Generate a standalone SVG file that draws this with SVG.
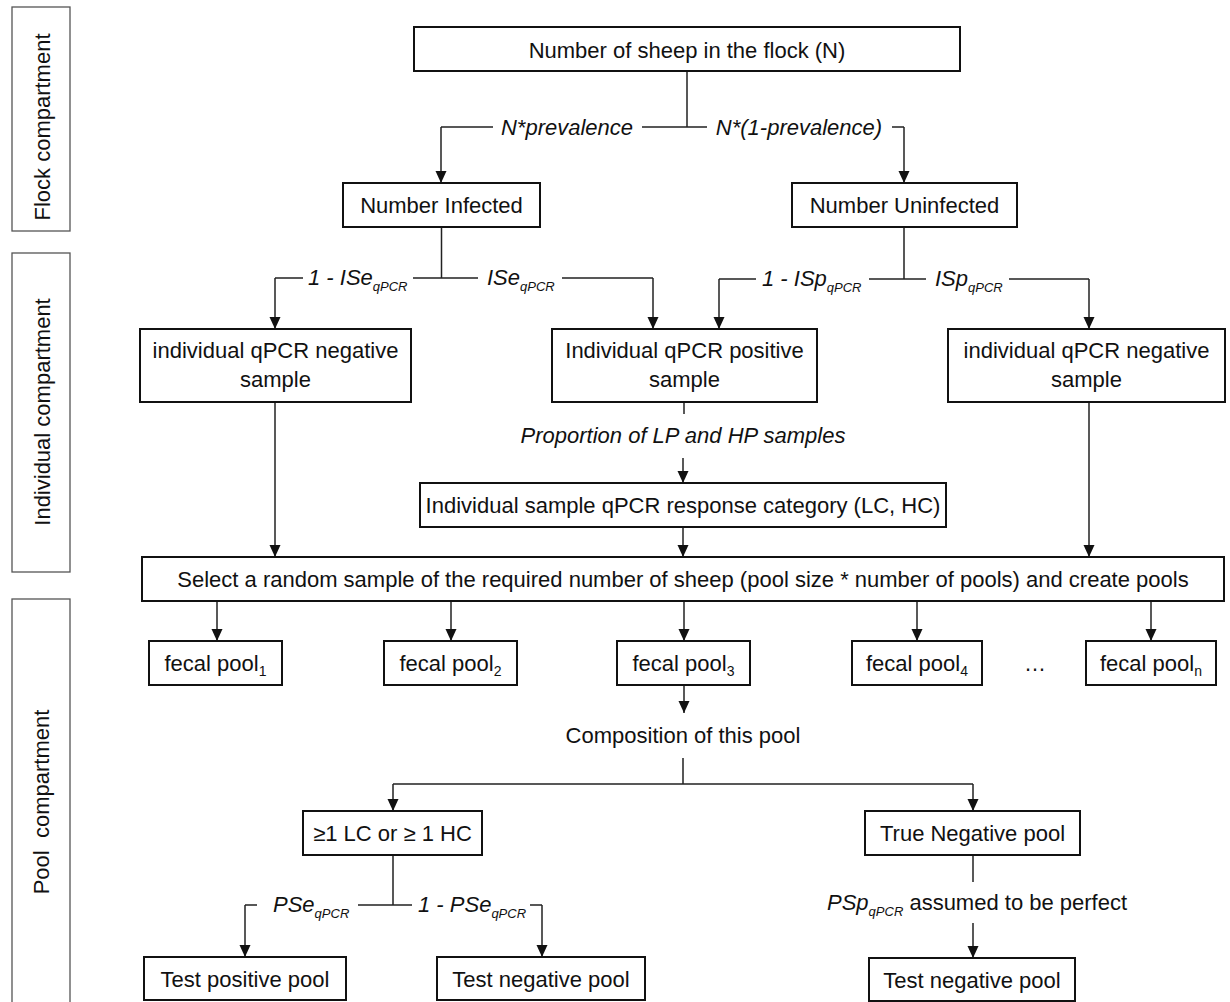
<svg xmlns="http://www.w3.org/2000/svg" width="1230" height="1002" viewBox="0 0 1230 1002">
<style>
.box{fill:#fff;stroke:#111;stroke-width:2}
.side{fill:#fff;stroke:#555;stroke-width:1.3}
.t{font-family:"Liberation Sans",Arial,sans-serif;font-size:22px;fill:#111;text-anchor:middle}
.ts{font-family:"Liberation Sans",Arial,sans-serif;font-size:22px;fill:#111;text-anchor:middle}
.lbl{font-family:"Liberation Sans",Arial,sans-serif;font-size:22px;font-style:italic;fill:#111}
.sub{font-size:13px}
.psub{font-size:14px}
.ln{fill:none;stroke:#222;stroke-width:1.5}
.ar{fill:none;stroke:#222;stroke-width:1.5;marker-end:url(#ah)}
</style>
<defs>
<marker id="ah" viewBox="0 0 12 12" refX="12" refY="6" markerWidth="12" markerHeight="12" markerUnits="userSpaceOnUse" orient="auto">
<path d="M0,0.5 L12,6 L0,11.5 z" fill="#111"/>
</marker>
</defs>
<rect width="1230" height="1002" fill="#fff"/>

<g id="compartments">
<g id="flock-compartment"><rect class="side" x="12" y="7" width="58" height="224"/><text class="ts" transform="translate(50,127) rotate(-90)">Flock compartment</text></g>
<g id="individual-compartment"><rect class="side" x="12" y="253" width="58" height="319"/><text class="ts" transform="translate(50,412) rotate(-90)">Individual compartment</text></g>
<g id="pool-compartment"><rect class="side" x="12" y="599" width="58" height="410"/><text class="ts" transform="translate(49,802) rotate(-90)" xml:space="preserve">Pool  compartment</text></g>
</g>

<g id="connectors">
<path class="ln" d="M687,71 V127 M441,127 H493 M642,127 H707 M892,127 H904"/>
<path class="ar" d="M441,127 V183"/>
<path class="ar" d="M904,127 V183"/>
<path class="ln" d="M441.5,227 V278 M275,278 H303 M413,278 H478 M562,278 H653"/>
<path class="ar" d="M275,278 V329"/>
<path class="ar" d="M653,278 V329"/>
<path class="ln" d="M904,227 V279 M719,279 H756 M869,279 H926 M1009,279 H1089"/>
<path class="ar" d="M719,279 V329"/>
<path class="ar" d="M1089,279 V329"/>
<path class="ln" d="M684,402 V414"/>
<path class="ar" d="M683,458 V483"/>
<path class="ar" d="M683,527 V557"/>
<path class="ar" d="M275,402 V557"/>
<path class="ar" d="M1089,402 V557"/>
<path class="ar" d="M217,601 V641"/>
<path class="ar" d="M451,601 V641"/>
<path class="ar" d="M684,601 V641"/>
<path class="ar" d="M917,601 V641"/>
<path class="ar" d="M1151,601 V641"/>
<path class="ar" d="M684,685 V713"/>
<path class="ln" d="M683,758 V784 M393,784 H973"/>
<path class="ar" d="M393,784 V811"/>
<path class="ar" d="M973,784 V811"/>
<path class="ln" d="M393,855 V905 M245,905 H257 M358,905 H412 M530,905 H542"/>
<path class="ar" d="M245,905 V957"/>
<path class="ar" d="M542,905 V957"/>
<path class="ln" d="M973,855 V882"/>
<path class="ar" d="M973,923 V958"/>
<g id="edge-labels">
<text class="lbl" x="567" y="135" text-anchor="middle">N*prevalence</text>
<text class="lbl" x="799" y="135" text-anchor="middle">N*(1-prevalence)</text>
<text class="lbl" x="308" y="285">1 - ISe<tspan class="sub" dy="6">qPCR</tspan></text>
<text class="lbl" x="487" y="285">ISe<tspan class="sub" dy="6">qPCR</tspan></text>
<text class="lbl" x="762" y="286">1 - ISp<tspan class="sub" dy="6">qPCR</tspan></text>
<text class="lbl" x="935" y="286">ISp<tspan class="sub" dy="6">qPCR</tspan></text>
<text class="lbl" x="683" y="443" text-anchor="middle">Proportion of LP and HP samples</text>
<text class="lbl" x="273" y="912">PSe<tspan class="sub" dy="6">qPCR</tspan></text>
<text class="lbl" x="418" y="912">1 - PSe<tspan class="sub" dy="6">qPCR</tspan></text>
<text class="lbl" x="827" y="910">PSp<tspan class="sub" dy="6">qPCR</tspan><tspan dy="-6" font-style="normal"> assumed to be perfect</tspan></text>
</g>
</g>

<g id="n-flock"><rect class="box" x="414" y="27" width="546" height="44"/><text class="t" x="687" y="58">Number of sheep in the flock (N)</text></g>
<g id="n-infected"><rect class="box" x="343" y="183" width="197" height="44"/><text class="t" x="441.5" y="213">Number Infected</text></g>
<g id="n-uninfected"><rect class="box" x="792" y="183" width="225" height="44"/><text class="t" x="904.5" y="213">Number Uninfected</text></g>
<g id="n-neg-left"><rect class="box" x="140" y="329" width="271" height="73"/><text class="t" x="275.5" y="358">individual qPCR negative</text><text class="t" x="275.5" y="387">sample</text></g>
<g id="n-pos"><rect class="box" x="552" y="329" width="265" height="73"/><text class="t" x="684.5" y="358">Individual qPCR positive</text><text class="t" x="684.5" y="387">sample</text></g>
<g id="n-neg-right"><rect class="box" x="948" y="329" width="277" height="73"/><text class="t" x="1086.5" y="358">individual qPCR negative</text><text class="t" x="1086.5" y="387">sample</text></g>
<g id="n-category"><rect class="box" x="420" y="483" width="526" height="44"/><text class="t" x="683" y="513">Individual sample qPCR response category (LC, HC)</text></g>
<g id="n-select"><rect class="box" x="142" y="557" width="1082" height="44"/><text class="t" x="683" y="587">Select a random sample of the required number of sheep (pool size * number of pools) and create pools</text></g>
<g id="n-pool1"><rect class="box" x="149" y="641" width="133" height="44"/><text class="t" x="215.5" y="671">fecal pool<tspan class="psub" dy="5">1</tspan></text></g>
<g id="n-pool2"><rect class="box" x="384" y="641" width="133" height="44"/><text class="t" x="450.5" y="671">fecal pool<tspan class="psub" dy="5">2</tspan></text></g>
<g id="n-pool3"><rect class="box" x="617" y="641" width="133" height="44"/><text class="t" x="683.5" y="671">fecal pool<tspan class="psub" dy="5">3</tspan></text></g>
<g id="n-pool4"><rect class="box" x="852" y="641" width="130" height="44"/><text class="t" x="917" y="671">fecal pool<tspan class="psub" dy="5">4</tspan></text></g>
<g id="n-ellipsis"><text class="t" x="1035" y="671">…</text></g>
<g id="n-pooln"><rect class="box" x="1086" y="641" width="130" height="44"/><text class="t" x="1151" y="671">fecal pool<tspan class="psub" dy="5">n</tspan></text></g>
<g id="n-composition"><text class="t" x="683" y="743">Composition of this pool</text></g>
<g id="n-lchc"><rect class="box" x="303" y="811" width="179" height="44"/><text class="t" x="392.5" y="841">≥1 LC or ≥ 1 HC</text></g>
<g id="n-truneg"><rect class="box" x="865" y="811" width="215" height="44"/><text class="t" x="972.5" y="841">True Negative pool</text></g>
<g id="n-testpos"><rect class="box" x="144" y="957" width="202" height="43"/><text class="t" x="245" y="987">Test positive pool</text></g>
<g id="n-testneg-left"><rect class="box" x="437" y="957" width="208" height="43"/><text class="t" x="541" y="987">Test negative pool</text></g>
<g id="n-testneg-right"><rect class="box" x="869" y="958" width="206" height="43"/><text class="t" x="972" y="988">Test negative pool</text></g>
</svg>
